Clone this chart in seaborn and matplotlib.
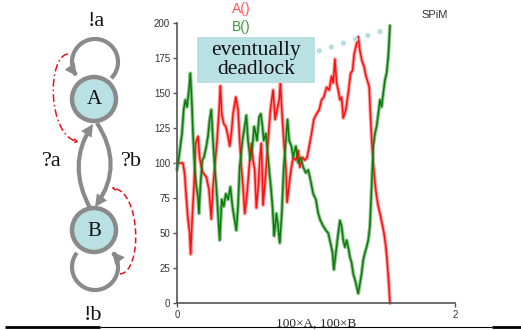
import numpy as np
import pandas as pd
import matplotlib
matplotlib.use("Agg")
import matplotlib.pyplot as plt
from matplotlib.patches import Circle, Rectangle, FancyArrowPatch
from matplotlib.path import Path
import seaborn as sns

# ---------------- data ----------------
t_a = [0.000, 0.043, 0.055, 0.067, 0.079, 0.091, 0.098, 0.110, 0.122, 0.134,
       0.151, 0.163, 0.175, 0.187, 0.211, 0.230, 0.247, 0.259, 0.271, 0.288,
       0.303, 0.312, 0.322, 0.336, 0.351, 0.367, 0.379, 0.391, 0.403, 0.423,
       0.439, 0.451, 0.463, 0.475, 0.487, 0.504, 0.519, 0.535, 0.547, 0.559,
       0.571, 0.586, 0.595, 0.607, 0.619, 0.639, 0.655, 0.672, 0.691, 0.706,
       0.720, 0.735, 0.744, 0.754, 0.768, 0.783, 0.792, 0.807, 0.823, 0.836,
       0.855, 0.872, 0.884, 0.903, 0.920, 0.936, 0.951, 0.968, 0.984, 1.004,
       1.023, 1.040, 1.056, 1.076, 1.095, 1.112, 1.124, 1.136, 1.148, 1.160,
       1.172, 1.184, 1.196, 1.215, 1.232, 1.249, 1.263, 1.275, 1.292, 1.304,
       1.316, 1.330, 1.345, 1.359, 1.369, 1.383, 1.393, 1.402, 1.412, 1.424,
       1.436, 1.448, 1.460, 1.479, 1.489, 1.503, 1.515, 1.525, 1.532]
a_vals = [100, 100, 92, 75, 60, 50, 35, 62, 83, 114,
          119, 104, 97, 93, 90, 81, 60, 83, 97, 116,
          138, 155, 135, 128, 126, 119, 112, 121, 135, 147,
          138, 116, 97, 83, 64, 78, 97, 114, 102, 95,
          68, 85, 102, 114, 70, 93, 116, 138, 152, 131,
          138, 145, 157, 138, 116, 97, 72, 85, 97, 104,
          102, 109, 97, 104, 102, 104, 112, 121, 131, 135,
          138, 145, 147, 154, 152, 162, 157, 174, 157, 152,
          145, 147, 132, 138, 150, 164, 166, 178, 185, 190,
          180, 173, 169, 162, 159, 154, 131, 114, 100, 86,
          76, 69, 64, 55, 50, 40, 26, 12, 0]

t_b = [0.000, 0.014, 0.024, 0.036, 0.048, 0.060, 0.072, 0.086, 0.096, 0.106,
       0.115, 0.127, 0.139, 0.151, 0.158, 0.168, 0.182, 0.194, 0.211, 0.223,
       0.235, 0.247, 0.259, 0.271, 0.283, 0.295, 0.307, 0.322, 0.336, 0.351,
       0.367, 0.384, 0.399, 0.415, 0.427, 0.439, 0.451, 0.471, 0.487, 0.499,
       0.511, 0.528, 0.543, 0.555, 0.567, 0.576, 0.591, 0.603, 0.615, 0.624,
       0.639, 0.648, 0.663, 0.675, 0.687, 0.699, 0.715, 0.727, 0.739, 0.754,
       0.768, 0.783, 0.795, 0.807, 0.823, 0.836, 0.855, 0.872, 0.888, 0.908,
       0.927, 0.944, 0.960, 0.980, 0.999, 1.016, 1.032, 1.052, 1.071, 1.088,
       1.104, 1.119, 1.128, 1.143, 1.160, 1.172, 1.184, 1.196, 1.208, 1.220,
       1.232, 1.244, 1.256, 1.268, 1.280, 1.292, 1.304, 1.316, 1.328, 1.340,
       1.352, 1.364, 1.376, 1.388, 1.400, 1.412, 1.424, 1.436, 1.448, 1.460,
       1.472, 1.484, 1.496, 1.508, 1.520, 1.527, 1.532]
b_vals = [95, 104, 112, 121, 138, 145, 140, 152, 164, 145,
          121, 97, 83, 76, 64, 83, 102, 104, 112, 119,
          131, 138, 116, 97, 83, 64, 45, 74, 69, 78,
          74, 83, 69, 59, 52, 69, 97, 116, 126, 134,
          116, 102, 112, 126, 121, 116, 133, 135, 126, 116,
          121, 112, 95, 83, 69, 48, 64, 55, 43, 64,
          97, 116, 131, 116, 112, 104, 112, 100, 104, 97,
          93, 95, 88, 78, 74, 64, 59, 55, 52, 50,
          43, 36, 24, 36, 50, 59, 55, 45, 40, 45,
          40, 33, 29, 21, 17, 12, 7, 14, 21, 31,
          36, 40, 45, 55, 83, 112, 121, 126, 135, 145,
          140, 150, 159, 164, 176, 188, 198]

species = ["A()", "B()"]
y_ticks = [0, 25, 50, 75, 100, 125, 150, 175, 200]
x_ticks = [0, 2]
x_label = "100\u00d7A, 100\u00d7B"

df = pd.concat([
    pd.DataFrame({"time": t_a, "count": a_vals, "species": species[0]}),
    pd.DataFrame({"time": t_b, "count": b_vals, "species": species[1]}),
], ignore_index=True)

# ---------------- style ----------------
sns.set_style("white")
plt.rcParams["font.family"] = ["Liberation Sans", "DejaVu Sans"]

W, H = 521, 330
fig = plt.figure(figsize=(W / 100, H / 100), dpi=100)

def fx(px):
    return px / W

def fy(py):
    return 1 - py / H

RED, GREEN = "#ff1010", "#0a7d0a"
pal_main = {species[0]: RED, species[1]: GREEN}
pal_fuzz = {species[0]: "#ff9a9a", species[1]: "#8cc48c"}

ax = fig.add_axes([fx(177), fy(303.3), fx(455) - fx(177), fy(22.7) - fy(303.3)])
sns.lineplot(data=df, x="time", y="count", hue="species", palette=pal_fuzz,
             estimator=None, sort=False, legend=False, lw=2.6, ax=ax)
sns.lineplot(data=df, x="time", y="count", hue="species", palette=pal_main,
             estimator=None, sort=False, legend=False, lw=1.1, ax=ax)
for ln in ax.lines:
    ln.set_clip_on(False)

ax.set_xlim(0, 2)
ax.set_ylim(0, 200)
ax.set_xticks(x_ticks)
ax.set_yticks(y_ticks)
ax.set_xlabel(x_label, family=["Liberation Serif"], fontsize=9.5, labelpad=-2)
ax.set_ylabel("")
sns.despine(ax=ax)
for s in ("left", "bottom"):
    ax.spines[s].set_color("#555555")
    ax.spines[s].set_linewidth(1.2)
ax.tick_params(axis="both", direction="out", length=3, width=1, color="#555555",
               labelsize=7, labelcolor="#333333", pad=2, left=True, bottom=True)
ax.patch.set_alpha(0)

# dotted "deadlock" trail
ax.plot([1.023, 1.472], [180, 194], color="#b3dde1", lw=3.8,
        linestyle=(0, (0.01, 2.4)), dash_capstyle="round", clip_on=False)

# ---------------- overlay: diagram & annotations ----------------
ov = fig.add_axes([0, 0, 1, 1])
ov.set_xlim(0, W)
ov.set_ylim(H, 0)
ov.axis("off")
ov.patch.set_alpha(0)

GRAY = "#8a8a8a"
FILL = "#b9e0e3"
serif = ["Liberation Serif", "DejaVu Serif"]

def arrow_path(path, color=GRAY, lw=3.0, style="-|>", ms=9, ls="-"):
    p = FancyArrowPatch(path=path, arrowstyle=style, mutation_scale=ms,
                        color=color, lw=lw, linestyle=ls, capstyle="butt",
                        joinstyle="miter", zorder=3)
    ov.add_patch(p)

def arc_points(cx, cy, r, th0, th1, n=60):
    th = np.radians(np.linspace(th0, th1, n))
    return np.column_stack([cx + r * np.cos(th), cy + r * np.sin(th)])

# self loops
arrow_path(Path(arc_points(95, 62, 23, 45, -218)), ms=10)
arrow_path(Path(arc_points(95, 267, 23, 218, -42)), ms=10)

# A <-> B arrows
arrow_path(Path([(90, 208), (67, 165), (93, 124)], [Path.MOVETO, Path.CURVE3, Path.CURVE3]), ms=10)
arrow_path(Path([(97, 123), (124, 165), (95, 207)], [Path.MOVETO, Path.CURVE3, Path.CURVE3]), ms=10)

# states
for (cx, cy, lab) in [(94, 99, "A"), (94, 230, "B")]:
    ov.add_patch(Circle((cx, cy), 22, facecolor=FILL, edgecolor=GRAY, lw=3.2, zorder=4))
    ov.text(cx, cy + 1, lab, ha="center", va="center", fontsize=15, family=serif,
            color="#111111", zorder=5)

# red dashed hints
arrow_path(Path([(68, 54), (47, 56), (47, 135), (79, 142)],
                [Path.MOVETO, Path.CURVE4, Path.CURVE4, Path.CURVE4]),
           color="#e8141c", lw=1.1, style="->", ms=7, ls=(0, (5, 2, 1, 2)))
arrow_path(Path([(120, 274), (143, 272), (141, 190), (111, 188)],
                [Path.MOVETO, Path.CURVE4, Path.CURVE4, Path.CURVE4]),
           color="#e8141c", lw=1.1, style="->", ms=7, ls=(0, (4, 2)))

# labels
for (x, y, s) in [(96, 21, "!a"), (93, 316, "!b"), (52, 161, "?a"), (131, 162, "?b")]:
    ov.text(x, y, s, ha="center", va="center", fontsize=16, family=serif, color="#111111")

# eventually deadlock box
ov.add_patch(Rectangle((197, 37), 118, 46, facecolor=FILL, edgecolor="none", zorder=6))
ov.text(256, 60, "eventually\ndeadlock", ha="center", va="center", fontsize=15.5,
        family=serif, linespacing=0.98, color="#111111", zorder=7)

# legend & SPiM
ov.text(241, 9, species[0], ha="center", va="center", fontsize=10, color="#ff5555")
ov.text(241, 27, species[1], ha="center", va="center", fontsize=10, color="#3a9a3a")
ov.text(435, 15, "SPiM", ha="center", va="center", fontsize=8, color="#333333")

# bottom rule
ov.plot([5, 100], [326.7, 326.7], color="black", lw=2.0, solid_capstyle="butt")
ov.plot([100, 492], [327.2, 327.2], color="black", lw=0.8, solid_capstyle="butt")
ov.plot([492, 521], [326.7, 326.7], color="black", lw=2.0, solid_capstyle="butt")

fig.savefig("out.png", dpi=100)
